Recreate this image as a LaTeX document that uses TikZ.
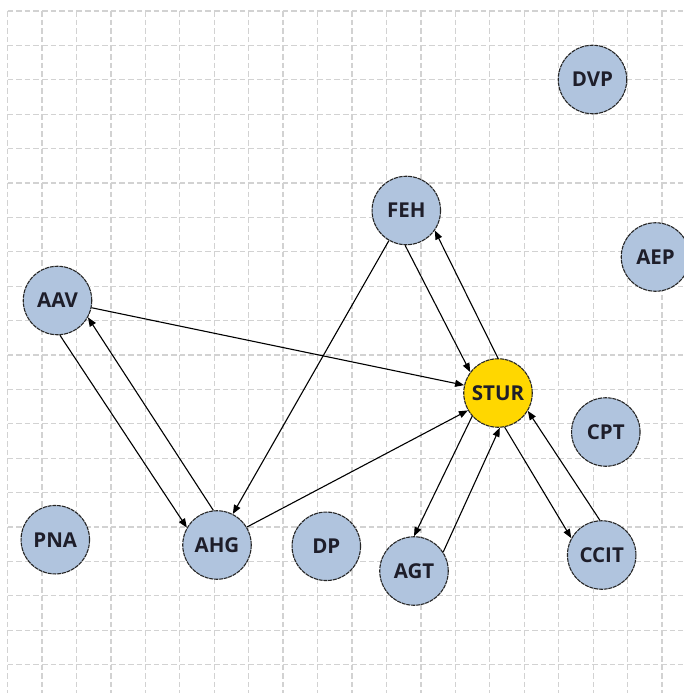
\documentclass[tikz,border=0pt]{standalone}
\usepackage{fontspec}
\setmainfont{Open Sans}
\usetikzlibrary{arrows.meta}
\definecolor{gridc}{HTML}{D2D2D2}
\definecolor{nodefill}{HTML}{B0C4DE}
\definecolor{hubfill}{HTML}{FFD700}
\definecolor{txt}{HTML}{1E1E2A}
\tikzset{
  vtx/.style={circle, draw=black!85, line width=1.1pt, dash pattern=on 4pt off 0.8pt,
    fill=nodefill, inner sep=0pt, minimum size=68.5pt,
    font=\fontsize{20.5}{20.5}\selectfont\bfseries, text=txt},
  hub/.style={vtx, fill=hubfill},
  link/.style={draw=black, line width=1.1pt, -{Triangle[length=9pt,width=7pt]}},
  gridline/.style={draw=gridc, line width=1.3pt, dash pattern=on 5.6pt off 3pt}
}
\begin{document}
\begin{tikzpicture}[x=1pt,y=-1pt]
\useasboundingbox (0,0) rectangle (683,693);
\fill[white] (0,0) rectangle (683,693);
\foreach \i in {0,...,19} {
  \draw[gridline] (7.5+34.45*\i,11) -- (7.5+34.45*\i,693);
  \draw[gridline] (7.5,11+34.4*\i) -- (683,11+34.4*\i);
}
\node[vtx] (DVP)  at (592.5,79.5) {DVP};
\node[vtx] (AEP)  at (655.5,257)  {AEP};
\node[vtx] (FEH)  at (406.3,210.5) {FEH};
\node[vtx] (AAV)  at (57.5,300.5) {AAV};
\node[hub] (STUR) at (498,393)    {STUR};
\node[vtx] (CPT)  at (605.8,432)  {CPT};
\node[vtx] (PNA)  at (55.3,539.7) {PNA};
\node[vtx] (AHG)  at (217,545)    {AHG};
\node[vtx] (DP)   at (326.3,546.3) {DP};
\node[vtx] (AGT)  at (414,571)    {AGT};
\node[vtx] (CCIT) at (601.7,555)  {CCIT};

\draw[link] (AAV.-12)   -- (STUR.167);
\draw[link] (AAV.-86)   -- (AHG.150);
\draw[link] (AHG.96)    -- (AAV.-29);
\draw[link] (FEH.-120.6) -- (AHG.63);
\draw[link] (FEH.-92)   -- (STUR.143);
\draw[link] (STUR.90)   -- (FEH.-35);
\draw[link] (AHG.31.6)  -- (STUR.210.6);
\draw[link] (STUR.-138) -- (AGT.90);
\draw[link] (AGT.33)    -- (STUR.-87.5);
\draw[link] (STUR.-79)  -- (CCIT.151);
\draw[link] (CCIT.93)   -- (STUR.-31);
\end{tikzpicture}
\end{document}
